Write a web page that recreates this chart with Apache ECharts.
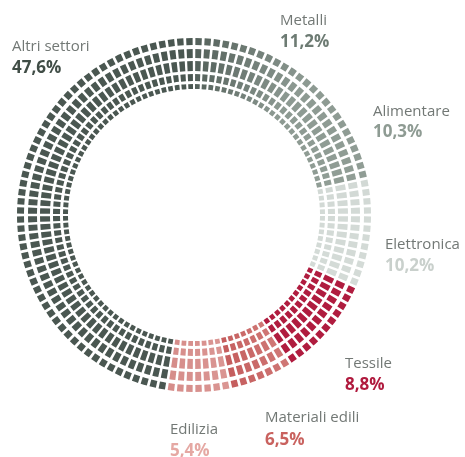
<!DOCTYPE html>
<html>
<head>
<meta charset="utf-8">
<script src="https://cdn.jsdelivr.net/npm/echarts@6/dist/echarts.min.js"></script>
<style>
  html, body { margin: 0; padding: 0; background: #fff; }
  #main { width: 465px; height: 457px; }
</style>
</head>
<body>
<div id="main"></div>
<script>
// sectors, clockwise from 12 o'clock
const categories = ['Metalli', 'Alimentare', 'Elettronica', 'Tessile', 'Materiali edili', 'Edilizia', 'Altri settori'];
const shares = [11.2, 10.3, 10.2, 8.8, 6.5, 5.4, 47.6];
const shareLabels = ['11,2%', '10,3%', '10,2%', '8,8%', '6,5%', '5,4%', '47,6%'];

// segment colours: [start, end] of a small gradient inside each sector
const segColors = [
    ['#53605a', '#8f9c94'],
    ['#8d9a92', '#909d95'],
    ['#d2d9d5', '#d4dbd7'],
    ['#b01c3f', '#b01c3f'],
    ['#d07a77', '#c45a5b'],
    ['#da9592', '#d68d8a'],
    ['#4a5751', '#4a5751']
];
const pctColors = ['#6d7b73', '#8e9b93', '#c9d0cc', '#b01a3e', '#c9625f', '#e5a8a3', '#404d46'];
const nameColor = '#727875';

// label anchors (left, middle of name line, middle of share line)
const labelPos = [
    [280, 21, 42], [373, 112, 132], [385, 245, 266], [345, 364, 385],
    [265, 418, 440], [170, 430, 451], [12, 47, 68]
];

// concentric bands of the ring [inner, outer]
const bands = [[126, 131], [134, 141], [144, 154], [157, 166], [170, 177]];
const segCount = 120;

function mix(a, b, t) {
    const pa = parseInt(a.slice(1), 16), pb = parseInt(b.slice(1), 16);
    const c = [16, 8, 0].map(s => {
        const x = (pa >> s) & 255, y = (pb >> s) & 255;
        return Math.round(x + (y - x) * t);
    });
    return 'rgb(' + c.join(',') + ')';
}

const total = shares.reduce((a, b) => a + b, 0);
const segData = [];
for (let i = 0; i < segCount; i++) {
    const p = (i + 0.5) / segCount * total;
    let acc = 0, k = 0;
    while (k < shares.length - 1 && p > acc + shares[k]) { acc += shares[k]; k++; }
    const t = (p - acc) / shares[k];
    segData.push({ value: 1, itemStyle: { color: mix(segColors[k][0], segColors[k][1], t) } });
}

const series = bands.map(b => ({
    type: 'pie',
    center: [194, 215],
    radius: b,
    startAngle: 90,
    clockwise: true,
    padAngle: 0.9,
    silent: true,
    animation: false,
    label: { show: false },
    labelLine: { show: false },
    data: segData
}));

const graphics = [];
categories.forEach((c, i) => {
    graphics.push({
        type: 'text', x: labelPos[i][0], y: labelPos[i][1],
        style: { text: c, fill: nameColor, font: '15px "Open Sans"', verticalAlign: 'middle' }
    });
    graphics.push({
        type: 'text', x: labelPos[i][0], y: labelPos[i][2],
        style: { text: shareLabels[i], fill: pctColors[i], font: 'bold 17px "Open Sans"', verticalAlign: 'middle' }
    });
});

const chart = echarts.init(document.getElementById('main'));
chart.setOption({
    backgroundColor: '#fff',
    animation: false,
    series: series,
    graphic: graphics
});
</script>
</body>
</html>
